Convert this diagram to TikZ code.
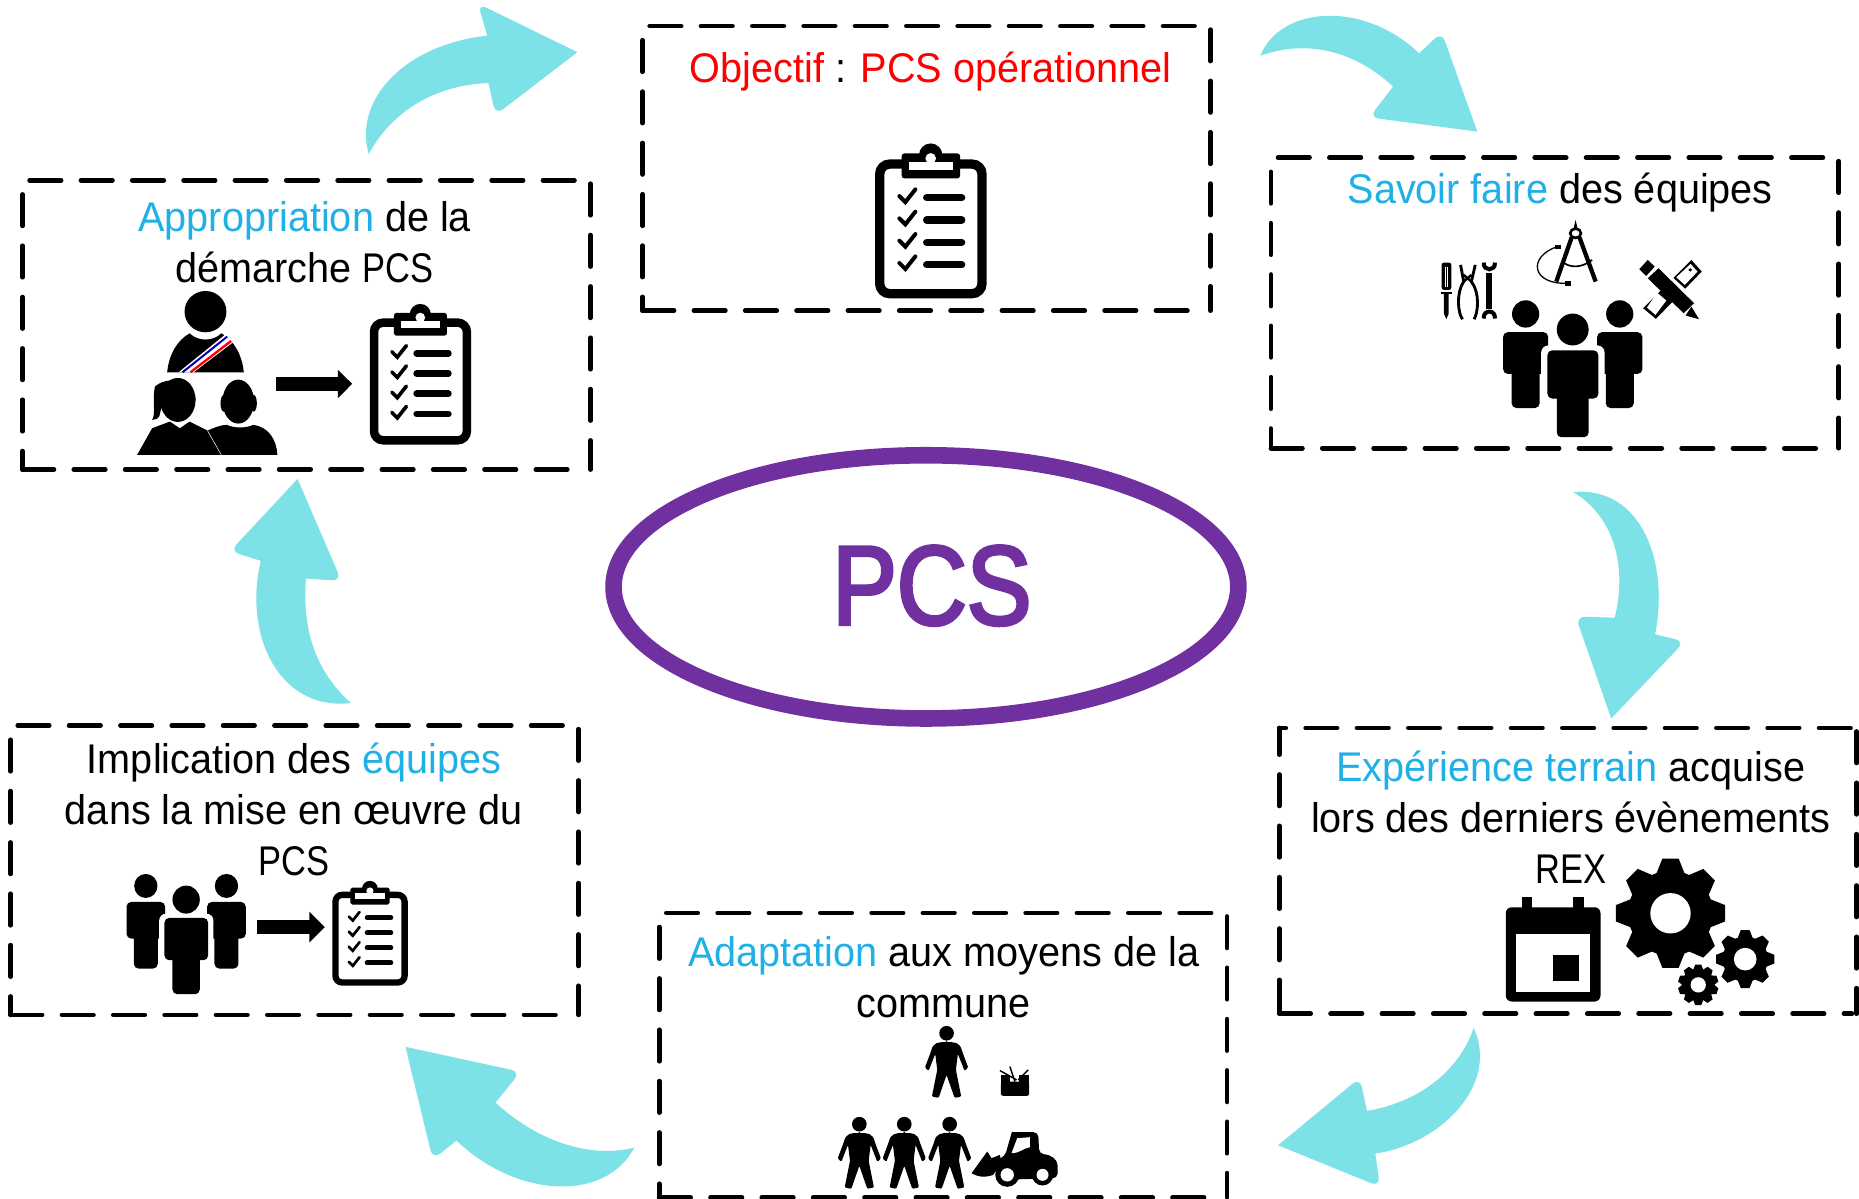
\documentclass[tikz,border=0pt]{standalone}
\usepackage{fontspec}
\usetikzlibrary{shapes.geometric}
\setmainfont{Liberation Sans}[FakeStretch=0.955]
\newfontfamily\capsword{Liberation Sans}[FakeStretch=0.83]
\newfontfamily\bigpcs{Liberation Sans}[FakeStretch=0.86,FakeBold=3]
\definecolor{teal}{HTML}{7DE1E8}
\definecolor{lblue}{HTML}{1FB0E6}
\definecolor{purp}{HTML}{7030A0}
\tikzset{
  boxline/.style={line width=4pt,line cap=round,dash pattern=on 26.5pt off 16.8pt},
  flow/.style={fill=teal,draw=none},
  lbl/.style={font=\fontsize{35}{43}\selectfont,align=center,inner sep=0pt,text=black},
}
\newcommand{\bleu}[1]{\textcolor{lblue}{#1}}
\newcommand{\dbox}[5]{%
  \node[minimum width=#3pt-#1pt,minimum height=#4pt-#2pt,inner sep=0pt,anchor=north west] (#5) at (#1,#2) {};
  \draw[boxline] (#1+6,#2) -- (#3,#2);
  \draw[boxline] (#3,#2+3) -- (#3,#4);
  \draw[boxline] (#1,#4) -- (#3-4,#4);
  \draw[boxline] (#1,#2+12) -- (#1,#4);
}
\newcommand{\clipicon}[3]{%
\begin{scope}[shift={(#1,#2)},scale=#3]\begin{scope}[shift={(-332,-300)}]
  \draw[line width=28*#3 pt,rounded corners=30*#3 pt] (179,132) rectangle (486,521);
  \fill[rounded corners=8*#3 pt] (245,100) rectangle (420,175);
  \fill (332,105) circle (35);
  \fill[white] (268,125) rectangle (398,150);
  \fill[white] (332,115) circle (16);
  \foreach \d in {0,67,134,201}{
    \draw[line width=12*#3 pt,line cap=round] (238,228+\d) -- (256,246+\d) -- (286,208+\d);
    \draw[line width=22*#3 pt,line cap=round] (320,233+\d) -- (425,233+\d);
  }
\end{scope}\end{scope}}
\newcommand{\peopleicon}[4]{%
\begin{scope}[shift={(#1,#2)},xscale=#3,yscale=#4]\begin{scope}[shift={(-259,-252)}]
  \foreach \c in {138,380}{
    \fill (\c,107) ellipse (35 and 36);
    \fill[rounded corners=4pt] (\c-58,155) rectangle (\c+58,265);
    \fill[rounded corners=4pt] (\c-36,240) rectangle (\c+36,355);
  }
  \fill[white,rounded corners=6pt] (178,190) rectangle (341,342);
  \fill[white] (205,340) rectangle (313,365);
  \fill (259,148) ellipse (41 and 42);
  \fill[rounded corners=4pt] (194,203) rectangle (325,330);
  \fill[rounded corners=4pt] (218,300) rectangle (300,432);
\end{scope}\end{scope}}
\newcommand{\gearicon}[5]{%
\begin{scope}[shift={(#1,#2)},scale=#3]
  \fill (0,0) circle (.78);
  \foreach \i in {1,...,#4}{
    \fill[rotate=\i*360/#4] (-.15,-1) -- (.15,-1) -- (.27,-.7) -- (-.27,-.7) -- cycle;
  }
  \fill[white] (0,0) circle (#5);
\end{scope}}
% small standing figure, head at (0,0), in zoom pixels
\newcommand{\manicon}[3]{%
\begin{scope}[shift={(#1,#2)},scale=#3]
  \fill (0,0) circle (22);
  \fill[rounded corners=1pt] (0,27) .. controls (25,26) and (40,28) .. (47,55) -- (65,103) -- (54,113) -- (34,62)
     -- (28,110) -- (44,190) -- (24,194) -- (0,125) -- (-24,194) -- (-44,190) -- (-28,110) -- (-34,62)
     -- (-54,113) -- (-65,103) -- (-47,55) .. controls (-40,28) and (-25,26) .. (0,27) -- cycle;
\end{scope}}
\begin{document}
\begin{tikzpicture}[x=1pt,y=-1pt]
\useasboundingbox (0,0) rectangle (1568,1011.3);
\fill[white] (0,0) rectangle (1568,1011.3);

% curved arrows
\fill[flow] (311,130) .. controls (298,85) and (340,38) .. (411,30) [rounded corners=8] -- (403,3) [sharp corners] -- (487,44) [rounded corners=8] -- (418,97) [sharp corners] -- (412,70) .. controls (365,72) and (330,95) .. cycle;
\fill[flow] (1063,47) .. controls (1080,5) and (1150,0) .. (1197,45) [rounded corners=8] -- (1216,27) [sharp corners] -- (1246,111) [rounded corners=8] -- (1155,99) [sharp corners] -- (1175,73) .. controls (1145,45) and (1105,32) .. cycle;
\fill[flow] (1327,415) .. controls (1385,410) and (1408,475) .. (1396,535) [rounded corners=8] -- (1421,541) [sharp corners] -- (1359,606) [rounded corners=8] -- (1329,520) [sharp corners] -- (1362,521) .. controls (1373,475) and (1360,435) .. cycle;
\fill[flow] (1243,867) .. controls (1265,915) and (1215,965) .. (1160,973) [rounded corners=8] -- (1164,1001) [sharp corners] -- (1078,966) [rounded corners=8] -- (1147,909) [sharp corners] -- (1153,937) .. controls (1195,930) and (1230,905) .. cycle;
\fill[flow] (535,968) .. controls (510,1015) and (435,1010) .. (385,962) [rounded corners=8] -- (365,978) [sharp corners] -- (342,883) [rounded corners=8] -- (439,904) [sharp corners] -- (418,930) .. controls (450,960) and (495,978) .. cycle;
\fill[flow] (296,593) .. controls (235,600) and (205,535) .. (220,473) [rounded corners=8] -- (194,465) [sharp corners] -- (251,404) [rounded corners=8] -- (288,490) [sharp corners] -- (258,488) .. controls (255,530) and (265,565) .. cycle;

% central ellipse
\node[draw=purp,line width=14pt,ellipse,minimum width=527pt,minimum height=222pt,inner sep=0pt] (hub) at (781,495) {};
\node[inner sep=0pt,text=purp,font=\bigpcs\fontsize{95}{95}\selectfont] (pcs) at (786,494) {PCS};

% boxes
\dbox{19}{152}{498}{396}{boxA}
\dbox{542}{22}{1021}{262}{boxB}
\dbox{1072}{133}{1551}{378}{boxC}
\node[minimum width=487pt,minimum height=241pt,inner sep=0pt,anchor=north west] (boxD) at (1079,614) {};
\draw[boxline,dash phase=21pt] (1079,614) -- (1566,614);
\draw[boxline] (1566,617) -- (1566,855);
\draw[boxline] (1079,855) -- (1562,855);
\draw[boxline,dash phase=4pt] (1079,614) -- (1079,855);
\dbox{556}{770}{1035}{1010}{boxE}
\dbox{9}{612}{488}{856}{boxF}

% labels
\node[lbl] (tA) at (257,204) {\bleu{Appropriation} de la\\démarche {\capsword PCS}};
\node[lbl] (tB) at (785,60) {\textcolor{red}{Objectif} : \textcolor{red}{PCS opérationnel}};
\node[lbl] (tC) at (1316,162) {\bleu{Savoir faire} des équipes};
\node[lbl] (tD) at (1325,689) {\bleu{Expérience terrain} acquise\\lors des derniers évènements\\{\capsword REX}};
\node[lbl] (tE) at (796,824) {\bleu{Adaptation} aux moyens de la\\commune};
\node[lbl] (tF) at (248,683) {Implication des \bleu{équipes}\\dans la mise en œuvre du\\{\capsword PCS}};

% clipboards
\clipicon{785}{185.6}{.281}
\clipicon{354.5}{315}{.255}
\clipicon{312}{786.7}{.19}

% box A figures, in zoom pixels
\begin{scope}[shift={(0,135)},xscale=.3333,yscale=.281]
  \fill (520,455) ellipse (53 and 62);
  \fill (423,637) .. controls (428,580) and (450,540) .. (480,520) .. controls (500,545) and (540,545) .. (560,520) .. controls (590,540) and (612,580) .. (617,637) -- cycle;
  \fill[white] (452,637) -- (572,522) -- (592,545) -- (490,637) -- cycle;
  \draw[blue!70!black,line width=1.7pt] (462,637) -- (575,530);
  \draw[red,line width=2pt] (482,637) -- (585,543);
  % woman
  \fill (347,885) -- (385,805) -- (430,785) -- (455,805) -- (480,785) -- (525,812) -- (560,885) -- cycle;
  \fill (450,720) ellipse (45 and 66);
  \fill (392,680) .. controls (420,650) and (490,650) .. (495,720) -- (480,740) -- (410,740) .. controls (400,770) and (410,775) .. (385,780) .. controls (395,760) and (385,720) .. (392,680) -- cycle;
  % man
  \fill (603,725) ellipse (40 and 66);
  \fill (566,730) ellipse (8 and 25);\fill (642,730) ellipse (8 and 25);
  \fill (525,812) -- (560,885) -- (702,885) .. controls (700,840) and (680,800) .. (640,795) .. controls (625,805) and (590,805) .. (575,795) .. controls (555,795) and (540,805) .. (525,812) -- cycle;
  \draw[white,line width=.4pt] (525,812) -- (560,885);
\end{scope}
\fill (233,318) rectangle (286,329.5);
\fill (285,312) -- (297,323.7) -- (285,336) -- cycle;

% box F figures
\peopleicon{157}{788}{.281}{.281}
\fill (217,776) rectangle (262,788);
\fill (261,769) -- (274,782) -- (261,795) -- cycle;

% box C figures
\peopleicon{1326.5}{311.2}{.328}{.32}
\begin{scope}[shift={(1060.4,126.5)},xscale=.3255,yscale=.281]
  % screwdriver
  \fill[rounded corners=2pt] (478,338) rectangle (503,420);
  \draw[white,line width=.7pt] (487,350) -- (487,412) (494,350) -- (494,412);
  \fill (475,425) rectangle (506,433);
  \fill (484,433) -- (484,492) -- (490,508) -- (496,492) -- (496,433) -- cycle;
  % pliers
  \draw[line width=2.4pt] (527,345) -- (535,395) .. controls (515,430) and (520,490) .. (532,508);
  \draw[line width=2.4pt] (565,345) -- (555,395) .. controls (578,430) and (572,490) .. (562,508);
  \draw[line width=2pt] (535,395) -- (555,375) (555,395) -- (535,375);
  % wrench
  \draw[line width=5pt] (601,370) -- (601,478);
  \draw[line width=3.4pt] (587,338) .. controls (585,365) and (618,365) .. (616,338);
  \draw[line width=3.4pt] (587,506) .. controls (585,478) and (618,478) .. (616,506);
  % compass
  \fill (825,210) -- (820,235) -- (830,235) -- cycle;
  \draw[line width=2.2pt] (825,250) circle (14);
  \draw[line width=3.6pt] (815,262) -- (775,395);
  \draw[line width=3.6pt] (835,262) -- (877,395);
  \draw[line width=1.4pt] (790,335) .. controls (810,355) and (840,355) .. (868,330);
  \draw[line width=1.1pt] (778,290) .. controls (700,320) and (710,405) .. (805,400);
  \fill (772,284) rectangle (786,298);
  \fill (798,394) rectangle (812,408);
  % ruler
  \fill (1125,330) -- (1152,365) -- (1033,507) -- (1000,475) -- cycle;
  \fill[white] (1123,342) -- (1141,365) -- (1108,405) -- (1086,382) -- cycle;
  \fill[white] (1036,428) -- (1060,452) -- (1032,495) -- (1010,473) -- cycle;
  \fill (1122,360) circle (5);
  % pencil
  \fill[white] (1002,372) -- (1036,340) -- (1150,460) -- (1115,500) -- cycle;
  \fill (1012,330) -- (1030,350) -- (1008,378) -- (990,358) -- cycle;
  \fill (1040,355) -- (1132,460) -- (1105,490) -- (1012,385) -- cycle;
  \fill (1125,470) -- (1145,508) -- (1110,497) -- cycle;
\end{scope}

% box D figures
\begin{scope}[shift={(1071,607.3)},xscale=.317,yscale=.281]
  \fill[rounded corners=5pt] (628,562) rectangle (880,845);
  \fill (670,532) rectangle (697,570);
  \fill (808,532) rectangle (836,570);
  \fill[white] (655,642) rectangle (852,815);
  \fill (753,705) rectangle (824,783);
\end{scope}
\gearicon{1409}{770.3}{46}{8}{.37}
\gearicon{1472}{809}{24.5}{8}{.39}
\gearicon{1432.4}{830.7}{17}{10}{.38}

% box E figures
\manicon{798.4}{871.5}{.281}
\manicon{724.8}{948.2}{.281}
\manicon{762.7}{948.2}{.281}
\manicon{801}{948.2}{.281}
\begin{scope}[shift={(657.9,843.4)},scale=.281]
  % toolbox
  \fill[rounded corners=2pt] (663,245) rectangle (748,288);
  \fill (663,225) rectangle (690,248);
  \fill (718,225) rectangle (748,248);
  \draw[line width=1.2pt] (660,212) -- (710,240) (690,200) -- (705,245) (745,210) -- (715,240);
  % loader
  \fill[rounded corners=4pt] (675,470) -- (692,410) .. controls (695,400) and (700,397) .. (710,397) -- (775,397) -- (778,462) .. controls (815,465) and (833,480) .. (833,510) -- (833,535) -- (660,540) -- (650,480) -- cycle;
  \fill[white] (695,460) -- (712,415) -- (750,412) -- (750,442) .. controls (730,445) and (720,460) .. (695,460) -- cycle;
  \fill (575,520) -- (622,455) -- (635,475) -- (660,465) -- (665,490) -- (640,525) .. controls (615,535) and (590,530) .. (575,520) -- cycle;
  \fill (682,525) circle (36);\fill (788,525) circle (32);
  \fill[white] (682,525) circle (20);\fill[white] (788,525) circle (18);
\end{scope}
\end{tikzpicture}
\end{document}
